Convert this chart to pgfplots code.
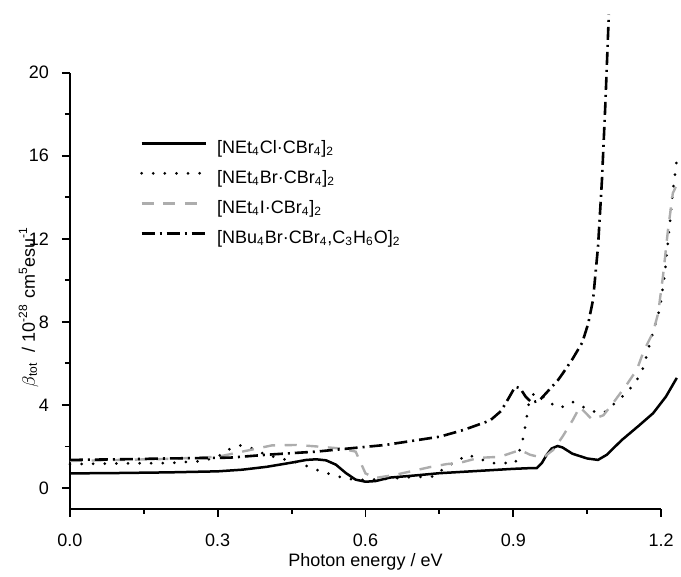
\documentclass[border=0pt]{standalone}
\usepackage{fontspec}
\setmainfont{Liberation Sans}
\usepackage{pgfplots}
\pgfplotsset{compat=1.18}
\definecolor{lgray}{gray}{0.68}
\newcommand{\fs}{\fontsize{9}{10.5}\selectfont}
\begin{document}
\begin{tikzpicture}
\begin{axis}[
    scale only axis, width=295.5pt, height=218pt,
    xmin=0, xmax=1.2, ymin=-1, ymax=20,
    clip=false,
    axis lines=left,
    axis line style={-, line width=0.9pt},
    tick align=outside,
    major tick length=4pt, minor tick length=2.5pt,
    tick style={line width=0.9pt, black},
    xtick={0,0.3,0.6,0.9,1.2}, minor x tick num=1,
    ytick={0,4,8,12,16,20}, minor y tick num=1,
    /pgf/number format/assume math mode=true,
    tick label style={font=\fs},
    xticklabel style={yshift=-5pt, /pgf/number format/.cd, fixed, fixed zerofill, precision=1},
    yticklabel style={xshift=-3pt},
    label style={font=\fs},
    xlabel={Photon energy / eV},
    ylabel={$\beta$\textsubscript{tot}\ \ / 10\textsuperscript{-28} cm\textsuperscript{5}esu\textsuperscript{-1}},
    xlabel style={at={(axis description cs:0.5,-0.122)}, anchor=center},
    ylabel style={at={(axis description cs:-0.07,0.462)}, anchor=center},
    legend cell align=left,
    legend image code/.code={\draw[#1] (0pt,3pt) -- (32pt,3pt); \path (37pt,0pt);},
    legend style={draw=none, fill=none, inner sep=0pt, font=\fs,
      at={(axis description cs:0.118,0.848)}, anchor=north west,
      nodes={inner sep=0pt, text height=7pt, text depth=3pt}, row sep=5pt},
]
\path (rel axis cs:-0.1184,-0.1337) rectangle (rel axis cs:1.0338,1.1667);

% [NEt4Cl.CBr4]2
\addplot[black, line width=1.25pt] coordinates {
(0,0.70) (0.1,0.72) (0.2,0.75) (0.3,0.80) (0.35,0.88) (0.40,1.02) (0.45,1.22)
(0.48,1.35) (0.50,1.38) (0.52,1.33) (0.54,1.12) (0.56,0.72) (0.58,0.40) (0.60,0.30)
(0.62,0.33) (0.65,0.50) (0.70,0.60) (0.75,0.71) (0.80,0.78) (0.85,0.85) (0.90,0.92)
(0.93,0.95) (0.948,0.96) (0.958,1.2) (0.968,1.6) (0.978,1.9) (0.99,2.02) (1.00,1.95)
(1.02,1.65) (1.05,1.42) (1.072,1.35) (1.09,1.6) (1.12,2.3) (1.155,3.0) (1.184,3.6)
(1.21,4.4) (1.232,5.3)};
\addlegendentry{[NEt\textsubscript{4}Cl·CBr\textsubscript{4}]\textsubscript{2}}

% [NEt4Br.CBr4]2
\addplot[black, line width=1.5pt, line cap=round, dash pattern=on 0pt off 5.8pt] coordinates {
(0,1.15) (0.1,1.18) (0.2,1.2) (0.27,1.3) (0.30,1.5) (0.32,1.83) (0.345,2.05)
(0.37,1.9) (0.39,1.68) (0.42,1.45) (0.44,1.35) (0.467,1.2) (0.49,0.96) (0.517,0.74)
(0.54,0.58) (0.565,0.43) (0.60,0.38) (0.65,0.45) (0.70,0.53) (0.737,0.55) (0.76,0.95)
(0.785,1.3) (0.808,1.6) (0.83,1.4) (0.86,1.2) (0.904,1.2) (0.913,1.83) (0.92,2.4)
(0.924,2.9) (0.928,3.5) (0.932,4.1) (0.94,4.5) (0.955,4.55) (0.97,4.15) (0.995,3.85)
(1.02,4.15) (1.042,3.9) (1.06,3.7) (1.083,3.6) (1.107,4.1) (1.131,4.6) (1.151,5.2)
(1.164,5.8) (1.178,7.0) (1.198,8.7) (1.208,10.4) (1.218,12.8) (1.225,14.5) (1.232,15.8)};
\addlegendentry{[NEt\textsubscript{4}Br·CBr\textsubscript{4}]\textsubscript{2}}

% [NEt4I.CBr4]2
\addplot[lgray, line width=1.2pt, dash pattern=on 6pt off 4.8pt] coordinates {
(0,1.3) (0.1,1.35) (0.2,1.4) (0.3,1.5) (0.36,1.8) (0.41,2.05) (0.46,2.07) (0.50,2.0)
(0.55,1.9) (0.58,1.75) (0.60,0.7) (0.62,0.48) (0.66,0.63) (0.73,1.0) (0.765,1.15)
(0.79,1.2) (0.83,1.45) (0.873,1.5) (0.914,1.83) (0.934,1.6) (0.96,1.45) (0.981,1.83)
(1.0,2.47) (1.021,3.28) (1.035,3.9) (1.06,3.3) (1.083,3.5) (1.103,4.1) (1.131,5.0)
(1.151,5.7) (1.165,6.6) (1.184,7.5) (1.194,8.4) (1.204,10.2) (1.214,12.4) (1.224,14.2)
(1.23,14.5)};
\addlegendentry{[NEt\textsubscript{4}I·CBr\textsubscript{4}]\textsubscript{2}}

% [NBu4Br.CBr4,C3H6O]2
\addplot[black, line width=1.3pt, dash pattern=on 6.5pt off 2.5pt on 1pt off 2.5pt] coordinates {
(0,1.35) (0.1,1.38) (0.2,1.42) (0.325,1.46) (0.4,1.6) (0.5,1.75) (0.64,2.07)
(0.751,2.47) (0.80,2.8) (0.853,3.25) (0.875,3.7) (0.89,4.3) (0.904,4.88) (0.914,4.8)
(0.925,4.4) (0.938,4.1) (0.954,4.24) (0.968,4.6) (0.991,5.2) (1.00,5.5) (1.02,6.2)
(1.04,7.0) (1.052,7.9) (1.062,9.06) (1.072,11.6) (1.08,14.8) (1.087,18.5) (1.094,22.8)};
\addlegendentry{[NBu\textsubscript{4}Br·CBr\textsubscript{4},C\textsubscript{3}H\textsubscript{6}O]\textsubscript{2}}
\end{axis}
\end{tikzpicture}
\end{document}
